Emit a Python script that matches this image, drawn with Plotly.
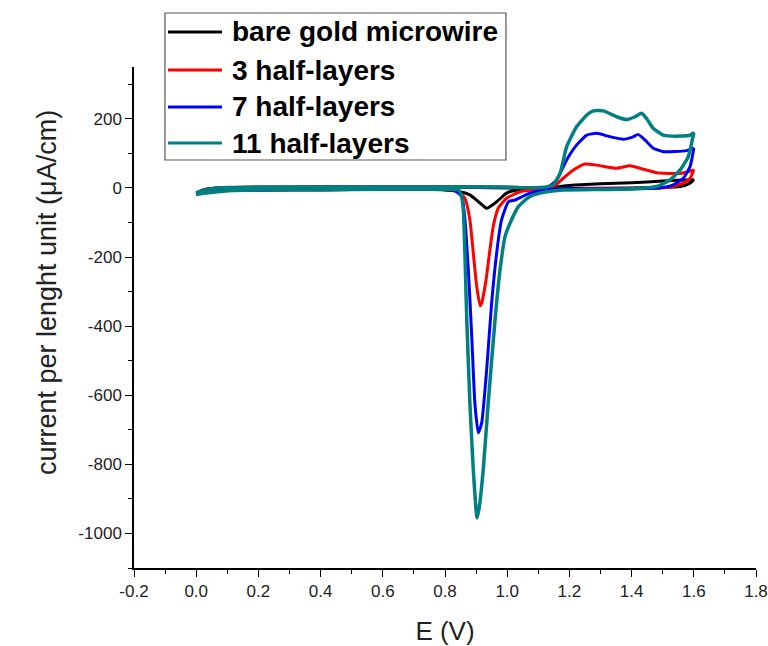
import plotly.graph_objects as go

# Cyclic voltammograms, forward scan (0 -> 1.6 V) followed by reverse scan (1.6 -> 0 V)
bare_e = [0.0, 0.03, 0.1, 0.3, 0.5, 0.7, 0.8, 0.85, 0.9, 1.0, 1.13, 1.2, 1.3, 1.4, 1.5, 1.6,
          1.6, 1.588, 1.556, 1.5, 1.4, 1.2, 1.05, 1.03, 0.998, 0.966, 0.934, 0.913, 0.88, 0.848,
          0.79, 0.6, 0.4, 0.2, 0.05, 0.0]
bare_i = [-14, -4, 1, 2, 2, 2, 2, 2, 1, 0, 0, 7, 12, 15, 20, 24,
          24, 14, 4, 1, 0, -2, -4, -6, -15, -40, -59, -44, -20, -11,
          -5, -4, -5, -6, -9, -16]

half3_e = [0.0, 0.03, 0.1, 0.3, 0.5, 0.7, 0.85, 1.0, 1.1, 1.138, 1.16, 1.18, 1.213, 1.25, 1.288,
           1.352, 1.395, 1.438, 1.481, 1.556, 1.6,
           1.6, 1.588, 1.566, 1.523, 1.45, 1.3, 1.15, 1.08, 1.041, 0.998, 0.971, 0.955, 0.943,
           0.932, 0.918, 0.913, 0.902, 0.891, 0.88, 0.864, 0.843, 0.8, 0.6, 0.4, 0.2, 0.05, 0.0]
half3_i = [-15, -5, 1, 2, 3, 3, 3, 2, 1, 0, 12, 28, 52, 69, 66,
           57, 64, 54, 44, 42, 52,
           52, 28, 14, 2, -1, -2, -3, -6, -11, -30, -59, -112, -189,
           -266, -333, -341, -285, -189, -92, -30, -11, -4, -4, -5, -6, -9, -18]

half7_e = [0.0, 0.03, 0.1, 0.3, 0.5, 0.7, 0.85, 1.0, 1.1, 1.127, 1.159, 1.191, 1.223, 1.256,
           1.288, 1.331, 1.373, 1.405, 1.421, 1.443, 1.47, 1.502, 1.577, 1.6,
           1.6, 1.588, 1.566, 1.534, 1.49, 1.3, 1.148, 1.073, 1.025, 1.004, 0.982, 0.966, 0.95,
           0.934, 0.918, 0.907, 0.896, 0.886, 0.875, 0.864, 0.854, 0.832, 0.8, 0.6, 0.4, 0.2,
           0.05, 0.0]
half7_i = [-16, -6, 1, 2, 3, 3, 3, 2, 1, 0, 23, 81, 124, 153,
           158, 148, 141, 148, 155, 139, 115, 105, 108, 115,
           115, 62, 28, 9, 0, -3, -3, -15, -35, -40, -92, -189, -333,
           -526, -680, -709, -622, -430, -237, -92, -25, -8, -4, -4, -5, -6,
           -9, -19]

half11_e = [0.0, 0.02, 0.05, 0.1, 0.2, 0.4, 0.6, 0.8, 0.9, 1.0, 1.105, 1.147, 1.17, 1.191,
            1.223, 1.256, 1.277, 1.309, 1.352, 1.384, 1.411, 1.432, 1.448, 1.47, 1.502, 1.556,
            1.588, 1.6,
            1.6, 1.582, 1.556, 1.523, 1.481, 1.395, 1.18, 1.127, 1.105, 1.073, 1.036, 1.014,
            0.993, 0.977, 0.961, 0.939, 0.923, 0.91, 0.903, 0.891, 0.88, 0.87, 0.864, 0.859,
            0.852, 0.842, 0.8, 0.6, 0.4, 0.2, 0.1, 0.0]
half11_i = [-15, -8, -2, 1, 2, 3, 3, 3, 3, 2, 1, 9, 42, 119,
            177, 211, 223, 223, 206, 198, 206, 216, 201, 172, 153, 150,
            153, 160,
            160, 90, 52, 23, 4, -3, -6, -11, -15, -25, -54, -92,
            -141, -237, -381, -622, -815, -925, -955, -815, -622, -381, -189, -64,
            -20, -5, -4, -4, -5, -6, -8, -18]

SERIES = [
    ("bare gold microwire", bare_e, bare_i, "#000000", 3),
    ("3 half-layers", half3_e, half3_i, "#ff0000", 3),
    ("7 half-layers", half7_e, half7_i, "#0000ff", 3),
    ("11 half-layers", half11_e, half11_i, "#008080", 3.5),
]

x_ticks = [-0.2, 0.0, 0.2, 0.4, 0.6, 0.8, 1.0, 1.2, 1.4, 1.6, 1.8]
y_ticks = [200, 0, -200, -400, -600, -800, -1000]

FONT_FAMILY = "Arial, Liberation Sans, sans-serif"
TEXT_COLOR = "#222222"

# legend box drawn by hand (paper coordinates) to get Origin-like spacing
LEGEND_BOX = dict(x0=0.0498, x1=0.598, y0=0.8144, y1=1.1078)
LEGEND_ROWS_Y = [1.0699, 0.994, 0.9202, 0.8483]
LEGEND_LINE_X = (0.0547, 0.1415)
LEGEND_TEXT_X = 0.1543

fig = go.Figure()
for name, e, i, color, width in SERIES:
    fig.add_trace(
        go.Scatter(
            x=e,
            y=i,
            mode="lines",
            name=name,
            showlegend=False,
            line=dict(color=color, width=width, shape="spline", smoothing=0.5),
        )
    )

axis_common = dict(
    showline=True,
    linecolor="black",
    linewidth=1.5,
    showgrid=False,
    zeroline=False,
    ticks="outside",
    ticklen=7,
    tickwidth=1.2,
    tickcolor="black",
    tickfont=dict(family=FONT_FAMILY, size=17, color=TEXT_COLOR),
    mirror=False,
    automargin=False,
)

fig.update_xaxes(
    **axis_common,
    range=[-0.2, 1.8],
    tickvals=x_ticks,
    ticktext=[f"{v:.1f}" for v in x_ticks],
    minor=dict(ticks="outside", ticklen=4, tickwidth=1.2, tickcolor="black", dtick=0.1, tick0=-0.2),
    title=dict(text="E (V)", font=dict(family=FONT_FAMILY, size=26, color=TEXT_COLOR), standoff=22),
)
fig.update_yaxes(
    **axis_common,
    range=[-1100, 350],
    tickvals=y_ticks,
    ticktext=[str(v) for v in y_ticks],
    minor=dict(ticks="outside", ticklen=4, tickwidth=1.2, tickcolor="black", dtick=100, tick0=0),
)

# y title as an annotation: it sits a bit above the middle of the axis in the original
fig.add_annotation(
    text="current per lenght unit (μA/cm)",
    xref="paper", yref="paper",
    x=-0.167, y=0.549,
    textangle=-90,
    showarrow=False,
    font=dict(family=FONT_FAMILY, size=27, color=TEXT_COLOR),
)

fig.add_shape(
    type="rect", xref="paper", yref="paper",
    **LEGEND_BOX,
    line=dict(color="#555555", width=1.2),
    fillcolor="white",
)
for (name, _, _, color, _), ry in zip(SERIES, LEGEND_ROWS_Y):
    fig.add_shape(
        type="line", xref="paper", yref="paper",
        x0=LEGEND_LINE_X[0], x1=LEGEND_LINE_X[1], y0=ry, y1=ry,
        line=dict(color=color, width=3),
    )
    fig.add_annotation(
        text=f"<b>{name}</b>",
        xref="paper", yref="paper",
        x=LEGEND_TEXT_X, y=ry,
        xanchor="left", yanchor="middle",
        showarrow=False,
        font=dict(family=FONT_FAMILY, size=28, color="black"),
    )

fig.update_layout(
    width=768,
    height=646,
    margin=dict(l=134, r=12, t=67, b=78, autoexpand=False),
    plot_bgcolor="white",
    paper_bgcolor="white",
    showlegend=False,
)

# drop the default 8px body margin so the figure fills the window exactly
fig.write_html(
    "out.html",
    config={"displayModeBar": False},
    post_script="document.body.style.margin='0';",
)
